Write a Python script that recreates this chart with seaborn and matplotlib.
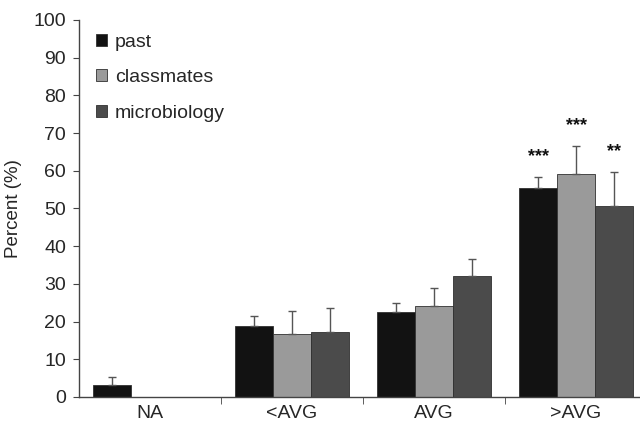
import pandas as pd
import numpy as np
import seaborn as sns
import matplotlib.pyplot as plt

# data
categories = ['NA', '<AVG', 'AVG', '>AVG']
groups = ['past', 'classmates', 'microbiology']
past = [3.2, 18.7, 22.5, 55.3]
classmates = [0, 16.8, 24.1, 59.1]
microbiology = [0, 17.2, 32.0, 50.6]
past_err = [2.2, 2.9, 2.3, 3.1]
classmates_err = [0, 6.0, 4.9, 7.4]
microbiology_err = [0, 6.4, 4.6, 9.0]
stars = {('>AVG', 'past'): '***', ('>AVG', 'classmates'): '***', ('>AVG', 'microbiology'): '**'}

colors = ['#121212', '#9a9a9a', '#4b4b4b']

rows = []
for g, vals, errs in zip(groups, [past, classmates, microbiology],
                         [past_err, classmates_err, microbiology_err]):
    for c, v, e in zip(categories, vals, errs):
        rows.append({'category': c, 'group': g, 'value': v, 'err': e})
df = pd.DataFrame(rows)

sns.set_style('ticks')
plt.rcParams['font.family'] = ['Liberation Sans', 'DejaVu Sans']

fig = plt.figure(figsize=(6.4, 4.25), dpi=100)
ax = fig.add_axes([0.123, 0.066, 0.877, 0.887])

sns.barplot(data=df, x='category', y='value', hue='group', order=categories,
            hue_order=groups, palette=colors, errorbar=None, width=0.8,
            edgecolor='#303030', linewidth=0.6, ax=ax)

# error bars (upper only) and significance stars, placed on the seaborn bars
for cont, g in zip(ax.containers, groups):
    sub = df[df['group'] == g].set_index('category').loc[categories]
    for bar, c in zip(cont, categories):
        v = sub.loc[c, 'value']
        e = sub.loc[c, 'err']
        if v <= 0:
            continue
        xc = bar.get_x() + bar.get_width() / 2
        ax.errorbar(xc, v, yerr=[[0], [e]], fmt='none', ecolor='#555555',
                    elinewidth=1, capsize=3, capthick=1)
        s = stars.get((c, g))
        if s:
            ax.text(xc, v + e + 5.4, s, ha='center', va='center',
                    fontsize=13, fontweight='bold', color='#111111')

ax.set_xlim(-0.5, 3.45)
ax.set_ylim(0, 100)
ax.set_yticks(range(0, 101, 10))
ax.set_xticks([0.5, 1.5, 2.5], minor=True)
ax.tick_params(axis='x', which='major', length=0, labelsize=14, pad=6)
ax.tick_params(axis='x', which='minor', length=5, color='#444444')
ax.tick_params(axis='y', length=4, labelsize=14, color='#444444', pad=5)
ax.set_xlabel('')
ax.set_ylabel('Percent (%)', fontsize=13.5, labelpad=8)
for side in ['top', 'right']:
    ax.spines[side].set_visible(False)
for side in ['left', 'bottom']:
    ax.spines[side].set_color('#444444')
    ax.spines[side].set_linewidth(1)

ax.legend(loc='upper left', bbox_to_anchor=(0.0, 1.01), frameon=False,
          fontsize=14, handlelength=0.55, handleheight=0.55, handletextpad=0.4,
          labelspacing=0.95)

fig.savefig('out.png', dpi=100)
